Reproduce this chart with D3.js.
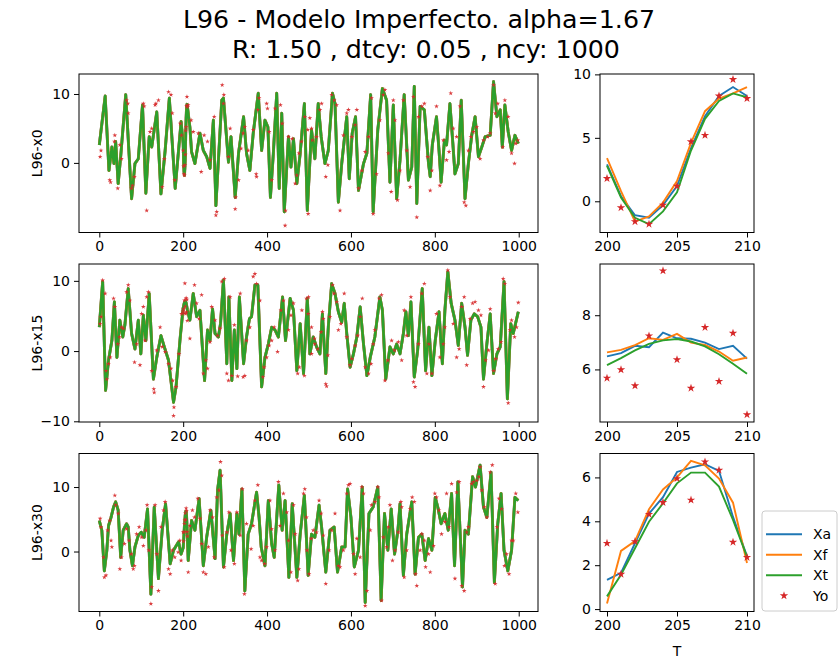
<!DOCTYPE html>
<html><head><meta charset="utf-8">
<script src="https://cdn.jsdelivr.net/npm/d3@7"></script>
<style>body{margin:0;background:#fff} text{font-family:"DejaVu Sans",sans-serif;fill:#000}</style>
</head><body><svg id="c" width="839" height="659"></svg>
<script>
// ---------- DATA ----------
const titleLine1 = "L96 - Modelo Imperfecto. alpha=1.67";
const titleLine2 = "R: 1.50 , dtcy: 0.05 , ncy: 1000";
const rowLabels = ["L96-x0", "L96-x15", "L96-x30"];
const seriesNames = ["Xa", "Xf", "Xt", "Yo"];
const leftXTicks = [0, 200, 400, 600, 800, 1000];
const rightXTicks = [200, 205, 210];
const leftYTicks = [[0, 10], [-10, 0, 10], [0, 10]];
const rightYTicks = [[0, 5, 10], [6, 8], [0, 2, 4, 6]];

// zoom window (right column)
const T = [200, 201, 202, 203, 204, 205, 206, 207, 208, 209, 210];
const xa0 = [2.9, 0.4, -1.1, -1.3, -0.3, 1.2, 4.2, 6.7, 8.3, 9.0, 8.3];
const xf0 = [3.4, 0.8, -1.6, -1.2, -0.1, 1.6, 4.6, 7.1, 8.1, 8.5, 9.0];
const xt0 = [2.8, 0.3, -1.3, -1.8, -0.8, 0.7, 4.0, 6.5, 7.9, 8.5, 8.2];
const yo0 = [1.8, -0.5, -1.6, -1.8, -0.3, 1.2, 4.7, 5.2, 8.3, 9.6, 8.1];
const xa15 = [6.48, 6.6, 6.87, 6.82, 7.36, 7.15, 7.13, 6.99, 6.75, 6.87, 6.4];
const xf15 = [6.63, 6.72, 6.9, 7.15, 7.09, 7.31, 6.99, 6.9, 6.66, 6.32, 6.44];
const xt15 = [6.16, 6.42, 6.7, 6.94, 7.07, 7.12, 7.03, 6.85, 6.56, 6.21, 5.84];
const yo15 = [5.68, 5.99, 5.4, 7.24, 9.64, 6.36, 5.31, 7.55, 5.56, 7.34, 4.33];
const xa30 = [1.33, 1.65, 3.0, 4.35, 5.1, 6.25, 6.45, 6.6, 6.3, 4.2, 2.4];
const xf30 = [0.25, 2.65, 3.1, 4.55, 5.45, 6.0, 6.75, 6.55, 5.95, 4.85, 2.1];
const xt30 = [0.58, 1.56, 2.77, 3.98, 4.82, 5.73, 6.22, 6.22, 5.58, 4.06, 2.39];
const yo30 = [3.0, 1.59, 3.08, 4.32, 4.86, 5.95, 4.97, 6.71, 6.33, 3.05, 2.36];

// full run (left column), [t, value]
const line0 = [[0,2.6],[14,9.7],[23,-1.1],[30,2.3],[35,-0.1],[39,3.1],[45,-3.0],[51,0.9],[63,9.9],[77,-5.2],[85,-0.1],[93,0.6],[103,8.4],[111,-4.4],[119,3.8],[125,2.3],[137,7.4],[147,-4.5],[157,1.8],[167,9.4],[181,-3.7],[195,6.0],
[216,5.2],[220,1.6],[228,-0.1],[240,4.3],[248,1.8],[256,0.9],[264,-0.8],[272,6.2],[278,-6.2],[292,9.1],[296,9.4],[308,0.1],[314,3.8],[324,-5.0],[332,1.4],[344,6.7],[351,1.4],[359,-1.1],[367,4.3],[379,10.1],[387,1.8],[395,6.2],[402,5.2],[408,-5.0],[415,1.4],[423,10.1],[429,-3.7],[435,7.2],[441,-7.1],[451,3.8],[457,-0.6],[463,3.5],[471,-3.0],[479,1.4],[489,8.6],[496,-6.9],[506,4.8],[514,0.6],[522,8.6],[529,3.8],[538,-0.1],[546,1.8],[556,10.1],[562,8.6],[570,-5.7],[578,-0.1],[590,6.7],[596,-2.3],[603,4.3],[611,6.7],[618,-4.0],[630,-0.1],[638,1.4],[647,9.9],[653,-7.1],[664,4.8],[675,10.8],[685,9.1],[693,-2.8],[701,8.4],[709,-5.2],[717,0.4],[727,9.9],[737,-2.5],[745,-0.6],[751,11.1],[757,-5.9],[765,8.2],[775,7.7],[785,-0.1],[789,-2.0],[794,2.6],[804,6.7],[810,1.8],[815,-2.8],[823,3.3],[828,2.6],[836,8.6],[843,2.8],[848,-1.6],[856,-0.1],[863,9.1],[872,-5.2],[880,-0.1],[888,4.0],[896,6.7],[904,0.9],[912,2.3],[920,3.8],[932,4.0],[940,11.8],[948,6.7],[956,7.7],[961,2.3],[967,8.4],[975,4.5],[983,1.8],[991,4.0],[999,2.8]];
const line15 = [[0,3.4],[8,9.9],[15,-5.6],[22,-1.3],[30,1.5],[36,7.0],[42,-0.9],[49,4.4],[56,2.0],[61,3.7],[69,8.9],[77,2.5],[85,0.3],[93,4.4],[99,-0.4],[105,5.1],[111,1.5],[119,8.2],[129,-4.0],[137,-0.9],[147,2.2],[155,0.6],[165,-1.3],[177,-7.3],[183,-5.1],[193,2.0],
[216,4.4],[224,8.2],[232,4.9],[240,5.8],[251,-4.2],[258,3.0],[264,1.5],[270,6.0],[276,2.5],[284,2.0],[289,3.9],[296,10.1],[304,-1.8],[309,7.7],[316,-4.2],[322,3.0],[328,-2.5],[334,7.7],[344,-1.8],[351,2.0],[358,4.6],[363,4.9],[371,9.4],[378,9.4],[387,-5.1],[395,-0.9],[403,1.0],[411,3.4],[419,3.0],[427,2.0],[437,7.7],[444,1.5],[455,7.5],[463,5.8],[471,-2.8],[479,3.9],[487,-3.2],[496,7.5],[502,-0.4],[510,2.0],[518,0.6],[526,-0.4],[532,5.3],[540,-3.2],[546,3.4],[554,9.6],[562,8.2],[570,5.6],[578,4.1],[584,6.8],[590,2.5],[598,-2.3],[606,-0.4],[614,2.0],[622,6.3],[630,1.0],[638,-3.5],[646,-0.9],[657,2.0],[669,7.7],[675,5.8],[683,-4.0],[693,0.6],[701,-0.4],[709,1.0],[717,-0.4],[725,2.5],[731,5.6],[737,2.2],[743,7.0],[751,-3.7],[759,0.1],[770,8.9],[778,-2.8],[786,3.4],[793,-3.5],[801,1.5],[810,5.6],[818,-1.8],[824,5.8],[831,11.3],[839,6.8],[848,4.4],[856,0.8],[864,6.8],[872,3.4],[878,-0.6],[886,4.4],[894,5.3],[902,4.9],[910,3.4],[916,-4.0],[924,1.0],[932,5.3],[940,-3.2],[948,-0.4],[956,0.6],[965,9.9],[973,-6.8],[981,3.9],[987,2.5],[999,5.6]];
const line30 = [[0,4.8],[6,3.3],[12,-3.0],[18,0.2],[22,4.0],[28,5.3],[34,6.9],[39,7.7],[45,6.4],[51,-0.9],[57,3.3],[65,4.3],[69,3.8],[73,0.2],[79,-2.2],[85,0.7],[93,2.5],[100,3.0],[107,2.2],[115,6.6],[123,-6.6],[131,6.9],[141,-4.2],[150,3.3],[158,7.4],[169,-1.9],[177,0.2],[189,1.5],[195,-0.4],
[212,-1.4],[220,4.8],[228,3.3],[238,8.2],[248,-2.2],[256,2.2],[266,6.4],[276,-1.1],[282,9.5],[288,12.6],[296,-2.4],[304,2.7],[312,5.9],[320,-1.4],[328,5.9],[333,2.7],[340,9.7],[347,-6.1],[355,2.7],[363,4.3],[375,9.2],[381,5.3],[386,0.7],[395,-2.2],[403,7.9],[411,1.2],[417,-0.9],[428,10.3],[436,3.3],[443,7.9],[452,-4.0],[460,7.4],[471,-4.0],[479,2.7],[489,8.7],[498,-3.7],[506,2.7],[514,2.2],[524,7.2],[530,3.8],[540,-3.2],[550,3.3],[560,3.8],[568,-3.2],[578,0.7],[586,0.7],[592,9.7],[600,5.3],[608,-2.4],[618,0.2],[627,10.0],[634,-7.9],[643,5.9],[653,6.9],[664,10.0],[672,-7.6],[680,5.9],[688,0.2],[696,6.6],[704,-0.4],[712,3.3],[717,7.4],[725,-3.7],[733,2.7],[745,7.7],[753,-3.5],[761,2.2],[769,2.7],[777,-1.4],[785,2.0],[793,0.2],[801,8.4],[807,6.9],[815,4.3],[824,5.9],[832,3.3],[840,9.0],[847,-2.2],[855,10.8],[866,-5.5],[872,3.3],[880,2.7],[890,11.6],[897,10.0],[908,13.4],[916,6.9],[924,5.3],[934,12.3],[942,-4.8],[950,4.3],[958,9.0],[965,0.2],[974,-3.0],[983,0.2],[991,8.4],[999,7.9]];

const obs0 = [[2,0.9],[4,1.8],[25,-2.5],[27,-2.8],[37,4.0],[36,3.1],[44,-3.7],[49,2.6],[53,0.6],[65,9.1],[68,8.6],[69,7.2],[77,-3.7],[79,-3.3],[84,-2.0],[105,8.6],[107,8.2],[113,-6.9],[121,4.5],[125,5.0],[133,8.4],[135,8.6],[141,9.1],[150,-3.5],[155,0.6],[165,10.3],[171,9.9],[174,7.2],[180,-2.5],[193,5.7],[196,4.0],[212,8.4],[219,6.2],[224,4.5],[236,4.3],[243,-1.3],[250,4.0],[258,3.1],[264,0.4],[274,6.7],[280,-7.1],[278,-7.6],[293,11.3],[297,9.9],[296,8.6],[308,0.9],[312,5.0],[324,-6.7],[325,-5.0],[332,-2.5],[338,2.1],[343,4.3],[347,5.2],[355,1.8],[367,4.8],[375,-2.0],[374,-1.6],[381,9.4],[378,7.7],[401,7.9],[399,8.6],[405,4.5],[411,-2.5],[419,7.9],[432,8.4],[436,5.7],[443,-9.1],[444,-6.9],[451,3.8],[460,3.5],[467,-3.0],[471,-1.8],[476,1.4],[482,3.1],[490,6.7],[497,4.8],[498,-7.4],[508,3.3],[502,6.5],[506,5.0],[518,3.8],[526,7.7],[530,8.6],[540,-2.0],[545,-0.3],[554,9.9],[560,9.1],[566,8.4],[574,-6.9],[582,4.0],[590,7.2],[594,7.7],[602,3.8],[610,5.5],[614,7.7],[618,-3.7],[626,-1.1],[634,1.6],[642,3.8],[649,9.4],[653,-7.4],[661,-1.6],[669,6.2],[677,9.9],[681,10.6],[689,1.4],[696,-4.2],[701,9.1],[705,6.2],[711,-5.4],[717,-1.1],[725,9.1],[733,1.8],[741,-3.5],[749,9.6],[757,-7.9],[761,6.7],[769,8.2],[775,8.6],[783,0.9],[789,-4.0],[793,-1.1],[804,8.2],[812,-3.3],[820,3.3],[828,0.4],[834,1.6],[838,10.1],[844,5.0],[852,3.8],[860,8.2],[870,-5.7],[874,-6.2],[880,1.8],[886,3.8],[892,4.5],[900,5.2],[908,0.6],[916,3.3],[926,3.8],[932,4.3],[940,11.3],[944,7.2],[950,8.6],[962,2.3],[967,9.1],[975,6.7],[983,1.4],[990,-0.1],[993,2.8],[998,3.3]];
const obs15 = [[2,3.9],[4,4.9],[8,10.1],[14,8.2],[16,-2.8],[18,-4.0],[22,-1.8],[26,-0.9],[34,7.5],[37,6.3],[44,1.0],[48,2.0],[53,3.4],[57,3.2],[65,8.4],[69,9.4],[73,7.2],[84,-1.6],[89,1.0],[97,-2.0],[101,5.3],[105,6.3],[109,1.5],[113,7.7],[117,8.4],[125,-2.8],[130,-5.4],[131,-5.9],[137,0.1],[145,3.4],[150,0.6],[157,-0.1],[165,-1.8],[171,-2.5],[175,-4.2],[178,-8.0],[177,-9.2],[183,-5.1],[190,-0.4],[196,5.3],[216,1.8],[227,9.4],[232,6.8],[238,4.6],[244,8.0],[248,-3.2],[254,-1.3],[258,-2.5],[264,1.3],[268,6.3],[276,4.4],[282,2.2],[288,3.2],[292,9.9],[298,10.3],[304,-3.2],[308,-4.2],[312,7.7],[316,-3.5],[322,3.7],[330,-3.6],[336,8.2],[343,-3.7],[347,-3.5],[351,1.5],[359,3.4],[367,10.6],[371,11.0],[375,9.6],[383,7.2],[390,-3.7],[393,-2.3],[399,-0.9],[405,0.8],[411,1.5],[417,3.4],[425,-0.1],[433,5.8],[439,7.2],[451,3.0],[457,5.1],[463,6.8],[473,-3.2],[477,-2.3],[483,5.8],[489,-3.5],[494,7.5],[498,5.3],[506,-0.4],[513,1.8],[499,7.7],[506,3.4],[514,1.0],[521,0.3],[529,2.7],[532,5.6],[534,4.6],[540,-4.7],[542,-5.0],[545,-0.6],[550,4.9],[556,9.4],[560,8.2],[566,7.0],[570,3.0],[576,3.9],[584,8.2],[590,2.0],[598,-2.0],[602,-1.1],[610,0.8],[616,2.2],[622,4.9],[627,7.5],[634,-2.3],[642,-3.2],[648,-1.8],[653,1.0],[657,3.0],[667,7.5],[673,8.0],[681,-4.2],[688,-1.3],[697,1.5],[704,0.1],[713,1.3],[721,-1.3],[727,5.8],[733,2.2],[743,7.7],[749,-4.4],[753,-5.1],[761,1.0],[769,8.2],[775,9.6],[781,-3.2],[786,1.0],[793,-3.2],[804,5.3],[812,-0.9],[820,1.0],[824,3.4],[831,11.5],[836,7.7],[844,3.9],[852,-0.9],[858,0.3],[864,6.3],[870,7.7],[876,-2.0],[884,4.6],[890,6.8],[896,7.0],[904,5.8],[910,5.1],[916,-5.1],[921,-1.3],[928,0.1],[932,6.0],[940,-2.8],[945,-1.1],[951,0.3],[958,1.3],[963,10.3],[967,9.6],[975,-7.4],[979,3.0],[983,4.4],[990,2.0],[995,3.4],[999,6.9]];
const obs30 = [[2,5.1],[4,3.8],[10,-0.9],[12,-4.0],[16,-3.7],[20,3.3],[25,4.8],[28,1.7],[30,0.7],[37,8.7],[39,7.2],[45,5.9],[49,-2.7],[53,-0.9],[60,1.2],[65,3.5],[71,1.7],[76,-0.4],[81,-2.7],[84,-2.2],[89,2.7],[95,3.8],[101,2.2],[105,0.9],[111,3.3],[114,7.2],[118,0.2],[123,-8.1],[125,-5.5],[133,7.2],[137,-0.4],[141,-6.1],[147,3.8],[153,6.4],[157,7.7],[165,-2.7],[169,-3.5],[174,0.2],[180,-0.9],[188,-0.1],[192,1.7],[195,-1.4],[212,-3.2],[216,4.0],[222,6.4],[227,5.3],[235,8.2],[240,5.1],[244,1.2],[248,-3.2],[254,-3.5],[260,0.7],[264,6.4],[270,5.3],[274,-0.9],[280,8.4],[285,9.5],[289,13.9],[292,11.8],[293,2.5],[298,-2.4],[304,3.0],[309,6.1],[314,0.2],[322,-1.9],[328,6.1],[336,2.5],[341,9.7],[346,-6.6],[351,4.3],[362,0.4],[367,4.0],[371,7.9],[378,10.3],[383,-0.9],[387,-1.4],[394,-1.9],[399,0.7],[407,7.9],[411,3.5],[419,0.2],[427,10.8],[431,4.0],[439,9.0],[447,6.1],[451,1.7],[457,-3.2],[463,7.2],[467,2.7],[473,-4.5],[476,-2.7],[487,9.0],[490,9.7],[494,5.3],[495,0.2],[500,-3.5],[505,2.0],[510,3.3],[518,3.0],[524,7.9],[529,5.9],[534,2.5],[540,-5.0],[548,0.2],[554,3.3],[562,5.9],[570,-2.2],[574,-2.4],[582,0.2],[590,9.0],[594,10.3],[598,10.5],[606,-0.4],[610,-3.5],[614,2.0],[622,-0.9],[626,10.0],[630,9.0],[634,-8.4],[638,-6.1],[646,3.3],[649,7.2],[657,7.7],[664,10.0],[667,8.4],[673,-7.6],[677,2.2],[685,0.7],[689,3.8],[693,7.2],[699,-1.4],[705,0.2],[713,3.0],[719,7.7],[721,6.9],[727,-4.0],[733,0.2],[741,6.6],[746,8.4],[751,7.7],[754,-3.5],[757,-5.3],[765,0.2],[769,2.7],[775,1.7],[778,-2.4],[785,-0.4],[789,-3.2],[797,0.9],[800,9.0],[804,8.4],[810,6.4],[816,2.7],[824,4.6],[828,9.0],[834,3.8],[840,10.5],[848,-4.2],[852,9.2],[858,10.8],[864,-5.3],[870,-6.1],[876,3.0],[880,3.8],[888,10.5],[892,10.8],[900,11.0],[905,11.6],[908,13.1],[912,9.5],[918,6.9],[924,5.3],[932,12.3],[937,13.4],[944,-5.0],[948,3.8],[953,8.2],[959,6.6],[966,-2.2],[971,-0.4],[977,-3.5],[983,1.7],[987,1.7],[993,9.0],[998,6.1]];

// ---------- LAYOUT ----------
const colors = {Xa: "#1f77b4", Xf: "#ff7f0e", Xt: "#2ca02c", Yo: "#d62728"};
const rows = [{top: 74, bottom: 232.5}, {top: 264, bottom: 422}, {top: 453.5, bottom: 611.5}];
const leftRange = [79, 538], rightRange = [600, 754];
const leftYDomains = [[-10.1, 12.9], [-10.1, 12.4], [-9.3, 15.2]];
const rightYDomains = [[-2.46, 10.03], [4.06, 9.89], [-0.11, 7.09]];
const tickFont = 14;

const svg = d3.select("#c");
svg.append("rect").attr("width", 839).attr("height", 659).attr("fill", "#fff");

svg.append("text").attr("x", 419).attr("y", 27.5).attr("text-anchor", "middle")
  .style("font-size", "25.3px").text(titleLine1);
svg.append("text").attr("x", 426).attr("y", 57.5).attr("text-anchor", "middle")
  .style("font-size", "25.3px").text(titleLine2);

const win = [
  {xa: xa0, xf: xf0, xt: xt0, yo: yo0, line: line0, obs: obs0},
  {xa: xa15, xf: xf15, xt: xt15, yo: yo15, line: line15, obs: obs15},
  {xa: xa30, xf: xf30, xt: xt30, yo: yo30, line: line30, obs: obs30}
];

const fmt = d => d < 0 ? "\u2212" + Math.abs(d) : String(d);

function frameAxes(g, x, y, xt, yt) {
  const [x0, x1] = x.range(), [y1, y0] = y.range();
  g.append("rect").attr("x", x0).attr("y", y0).attr("width", x1 - x0).attr("height", y1 - y0)
    .attr("fill", "none").attr("stroke", "#000").attr("stroke-width", 1);
  const ax = g.append("g").attr("transform", `translate(0,${y1})`)
    .call(d3.axisBottom(x).tickValues(xt).tickFormat(fmt).tickSize(5).tickPadding(4));
  const ay = g.append("g").attr("transform", `translate(${x0},0)`)
    .call(d3.axisLeft(y).tickValues(yt).tickFormat(fmt).tickSize(5).tickPadding(4));
  [ax, ay].forEach(a => {
    a.select(".domain").remove();
    a.selectAll("text").style("font-size", tickFont + "px").style("font-family", '"DejaVu Sans",sans-serif').attr("fill", "#000");
    a.selectAll("line").attr("stroke", "#000");
  });
}

const star = d3.symbol().type(d3.symbolStar);

win.forEach((w, i) => {
  const r = rows[i];
  // merge window truth/obs into full-run arrays
  const fullLine = w.line.concat(T.map((t, k) => [t, w.xt[k]])).sort((a, b) => a[0] - b[0]);
  const fullObs = w.obs.concat(T.map((t, k) => [t, w.yo[k]]));

  // left panel
  const xl = d3.scaleLinear().domain([-48.4, 1046]).range(leftRange);
  const yl = d3.scaleLinear().domain(leftYDomains[i]).range([r.bottom, r.top]);
  const gl = svg.append("g");
  const ln = d3.line().x(d => xl(d[0])).y(d => yl(d[1]));
  [["Xa", 2.9], ["Xf", 2.9], ["Xt", 2.6]].forEach(([k, sw]) => {
    gl.append("path").datum(fullLine).attr("d", ln).attr("fill", "none")
      .attr("stroke", colors[k]).attr("stroke-width", sw).attr("stroke-linejoin", "round");
  });
  gl.selectAll("path.obs").data(fullObs).join("path").attr("class", "obs")
    .attr("d", star.size(7)()).attr("transform", d => `translate(${xl(d[0])},${yl(d[1])})`)
    .attr("fill", colors.Yo).attr("opacity", 0.9);
  frameAxes(gl, xl, yl, leftXTicks, leftYTicks[i]);
  svg.append("text").attr("transform", `translate(42,${(r.top + r.bottom) / 2}) rotate(-90)`)
    .attr("text-anchor", "middle").style("font-size", "14px").text(rowLabels[i]);

  // right panel
  const xr = d3.scaleLinear().domain([199.5, 210.5]).range(rightRange);
  const yr = d3.scaleLinear().domain(rightYDomains[i]).range([r.bottom, r.top]);
  const gr = svg.append("g");
  const lr = d3.line().x((d, k) => xr(T[k])).y(d => yr(d));
  [["Xa", w.xa], ["Xf", w.xf], ["Xt", w.xt]].forEach(([k, arr]) => {
    gr.append("path").datum(arr).attr("d", lr).attr("fill", "none")
      .attr("stroke", colors[k]).attr("stroke-width", 1.9);
  });
  gr.selectAll("path.yo").data(w.yo).join("path").attr("class", "yo")
    .attr("d", star.size(22)()).attr("transform", (d, k) => `translate(${xr(T[k])},${yr(d)})`)
    .attr("fill", colors.Yo);
  frameAxes(gr, xr, yr, rightXTicks, rightYTicks[i]);
});

svg.append("text").attr("x", 677).attr("y", 656).attr("text-anchor", "middle")
  .style("font-size", "14px").text("T");

// legend
const lg = svg.append("g");
lg.append("rect").attr("x", 762).attr("y", 511).attr("width", 75).attr("height", 100).attr("rx", 3)
  .attr("fill", "#fff").attr("fill-opacity", 0.8).attr("stroke", "#cccccc");
const ly = d3.scalePoint().domain(seriesNames).range([534.3, 595.7]);
seriesNames.forEach(n => {
  if (n === "Yo") {
    lg.append("path").attr("d", star.size(22)()).attr("transform", `translate(784,${ly(n)})`).attr("fill", colors.Yo);
  } else {
    lg.append("line").attr("x1", 766).attr("x2", 802).attr("y1", ly(n)).attr("y2", ly(n))
      .attr("stroke", colors[n]).attr("stroke-width", 1.9);
  }
  lg.append("text").attr("x", 813).attr("y", ly(n)).attr("dy", "0.36em").style("font-size", "14px").text(n);
});
</script></body></html>
